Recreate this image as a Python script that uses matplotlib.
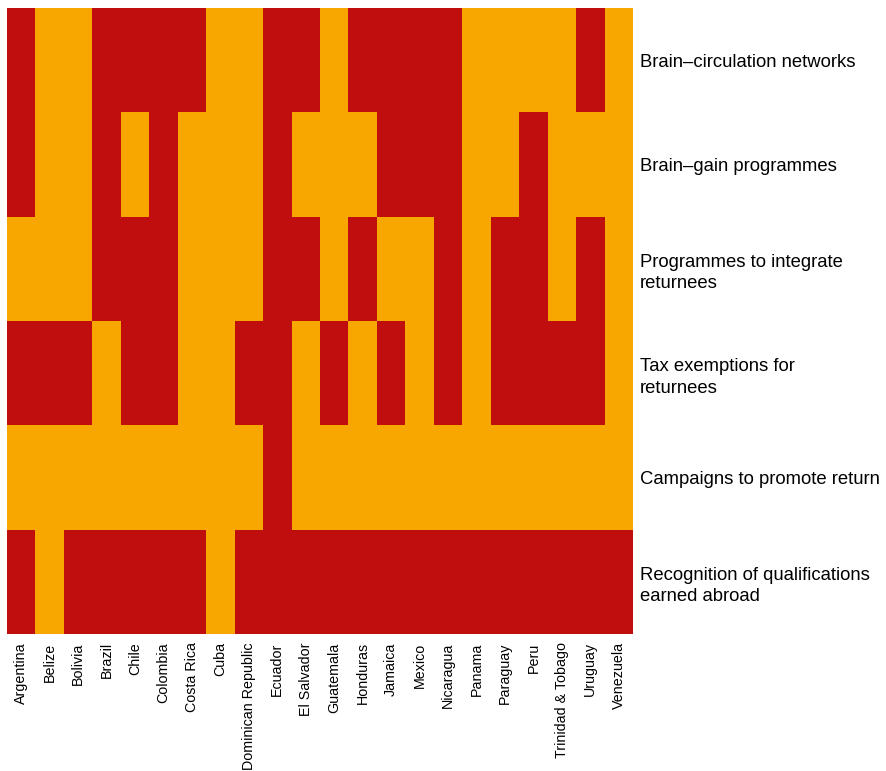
import numpy as np
import matplotlib
matplotlib.use("Agg")
import matplotlib.pyplot as plt
from matplotlib.colors import ListedColormap

# ==========================================
# DATA (1 = policy present / red, 0 = orange)
# ==========================================
countries = ["Argentina", "Belize", "Bolivia", "Brazil", "Chile", "Colombia",
             "Costa Rica", "Cuba", "Dominican Republic", "Ecuador", "El Salvador",
             "Guatemala", "Honduras", "Jamaica", "Mexico", "Nicaragua", "Panama",
             "Paraguay", "Peru", "Trinidad & Tobago", "Uruguay", "Venezuela"]

policies = ["Brain\u2013circulation networks",
            "Brain\u2013gain programmes",
            "Programmes to integrate\nreturnees",
            "Tax exemptions for\nreturnees",
            "Campaigns to promote return",
            "Recognition of qualifications\nearned abroad"]

brain_circulation = [1, 0, 0, 1, 1, 1, 1, 0, 0, 1, 1, 0, 1, 1, 1, 1, 0, 0, 0, 0, 1, 0]
brain_gain        = [1, 0, 0, 1, 0, 1, 0, 0, 0, 1, 0, 0, 0, 1, 1, 1, 0, 0, 1, 0, 0, 0]
integrate         = [0, 0, 0, 1, 1, 1, 0, 0, 0, 1, 1, 0, 1, 0, 0, 1, 0, 1, 1, 0, 1, 0]
tax_exemptions    = [1, 1, 1, 0, 1, 1, 0, 0, 1, 1, 0, 1, 0, 1, 0, 1, 0, 1, 1, 1, 1, 0]
campaigns         = [0, 0, 0, 0, 0, 0, 0, 0, 0, 1, 0, 0, 0, 0, 0, 0, 0, 0, 0, 0, 0, 0]
recognition       = [1, 0, 1, 1, 1, 1, 1, 0, 1, 1, 1, 1, 1, 1, 1, 1, 1, 1, 1, 1, 1, 1]

ORANGE = "#F7A700"
RED = "#C00E0E"

matrix = np.array([brain_circulation, brain_gain, integrate,
                   tax_exemptions, campaigns, recognition])

plt.rcParams['font.family'] = ['Liberation Sans', 'DejaVu Sans']

W, H = 887, 771
fig = plt.figure(figsize=(W / 100, H / 100), dpi=100)
ax = fig.add_axes([7 / W, 1 - 634 / H, (633 - 7) / W, (634 - 8) / H])

ax.pcolormesh(matrix, cmap=ListedColormap([ORANGE, RED]), vmin=0, vmax=1)
ax.set_xlim(0, len(countries))
ax.set_ylim(len(policies), 0)

ax.set_xticks(np.arange(len(countries)) + 0.5)
ax.set_xticklabels(countries, rotation=90, fontsize=10.3, va="top")
ax.tick_params(axis="x", length=0, pad=6)

ax.yaxis.tick_right()
ax.set_yticks(np.arange(len(policies)) + 0.5)
ax.set_yticklabels(policies, fontsize=13.3, ha="left", linespacing=1.35)
ax.tick_params(axis="y", length=0, pad=5)

for s in ax.spines.values():
    s.set_visible(False)

fig.savefig("out.png", dpi=100)
